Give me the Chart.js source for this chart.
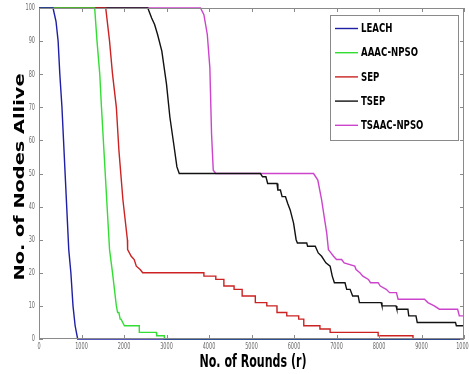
<!DOCTYPE html>
<html>
<head>
<meta charset="utf-8">
<script src="https://cdn.jsdelivr.net/npm/chart.js@4.4.1/dist/chart.umd.min.js"></script>
<style>
  html, body { margin: 0; padding: 0; background: #fff; }
  #wrap { width: 469px; height: 374px; }
</style>
</head>
<body>
<div id="wrap"><canvas id="chart"></canvas></div>
<script>
// values: rounds (x) and nodes alive (y) at each corner of the curves
const seriesNames = ['LEACH', 'AAAC-NPSO', 'SEP', 'TSEP', 'TSAAC-NPSO'];
const seriesColors = ['#1f1fa6', '#33dd33', '#cc2222', '#111111', '#cc44cc'];

const leachRounds = [0, 330, 400, 450, 490, 540, 700, 750, 800, 850, 910, 10000];
const leachNodes  = [100, 100, 96, 90, 80, 70, 27, 20, 10, 4, 0, 0];

const aaacRounds = [0, 1310, 1365, 1430, 1470, 1660, 1730, 1820, 1850, 1880, 1910, 1930, 2010, 2360, 2360, 2760, 2770, 2950, 2950, 10000];
const aaacNodes  = [100, 100, 90, 80, 70, 27, 20, 10, 8, 8, 6, 6, 4, 4, 2, 2, 1, 1, 0, 0];

const sepRounds = [0, 1570, 1660, 1730, 1820, 1880, 1975, 2080, 2085, 2170, 2240, 2290, 2380, 2440,
  3880, 3880, 4160, 4160, 4350, 4350, 4590, 4590, 4780, 4780, 5090, 5090, 5360, 5360, 5600, 5600,
  5830, 5830, 6110, 6110, 6230, 6230, 6610, 6610, 6850, 6850, 7980, 7980, 8800, 8800, 10000];
const sepNodes  = [100, 100, 90, 80, 70, 57, 42, 30, 27, 25, 24, 22, 21, 20,
  20, 19, 19, 18, 18, 16, 16, 15, 15, 13, 13, 11, 11, 10, 10, 8,
  8, 7, 7, 6, 6, 4, 4, 3, 3, 2, 2, 1, 1, 0, 0];

const tsepRounds = [0, 2560, 2650, 2720, 2790, 2890, 3000, 3080, 3180, 3245, 3300, 5210, 5260, 5340, 5380,
  5600, 5620, 5680, 5720, 5800, 5850, 5910, 5990, 6050, 6080, 6300, 6320, 6500, 6570, 6650, 6750, 6850,
  6900, 6950, 7200, 7240, 7320, 7380, 7510, 7540, 8050, 8070, 8400, 8420, 8680, 8700, 8870, 8900, 9800, 9820, 10000];
const tsepNodes  = [100, 100, 97, 95, 92, 87, 77, 67, 58, 52, 50, 50, 49, 49, 47,
  47, 45, 45, 43, 43, 41, 39, 35, 30, 29, 29, 28, 28, 26, 25, 23, 22,
  19, 17, 17, 15, 15, 13, 13, 11, 11, 10, 10, 9, 9, 7, 7, 5, 5, 4, 4];

const tsaacRounds = [0, 3800, 3880, 3960, 4020, 4060, 4100, 4160, 6460, 6560, 6650, 6710, 6770, 6810, 6870,
  6930, 7000, 7120, 7180, 7430, 7460, 7550, 7620, 7750, 7800, 7980, 8030, 8170, 8250, 8410, 8450,
  9070, 9150, 9300, 9420, 9850, 9890, 10000];
const tsaacNodes  = [100, 100, 98, 92, 82, 62, 51, 50, 50, 48, 42, 37, 32, 27, 26,
  25, 24, 24, 23, 22, 21, 20, 19, 18, 17, 17, 16, 15, 14, 14, 12,
  12, 11, 10, 9, 9, 7, 7];

const xTicks = { min: 0, max: 10000, step: 1000 };
const yTicks = { min: 0, max: 100, step: 10 };

const allRounds = [leachRounds, aaacRounds, sepRounds, tsepRounds, tsaacRounds];
const allNodes = [leachNodes, aaacNodes, sepNodes, tsepNodes, tsaacNodes];

const sans = '"DejaVu Sans", sans-serif';

// write text squeezed/stretched horizontally by factor sx
function squeezedText(ctx, text, x, y, sx, align) {
  ctx.save();
  ctx.translate(x, y);
  ctx.scale(sx, 1);
  ctx.textAlign = align;
  ctx.fillText(text, 0, 0);
  ctx.restore();
}

// axis frame with inward tick marks, narrow tick labels, titles, legend
const framePlugin = {
  id: 'frame',
  beforeDatasetsDraw(chart) {
    const { ctx, chartArea: a, scales } = chart;
    ctx.save();
    ctx.fillStyle = '#6a6a6a';
    ctx.font = '9px ' + sans;
    ctx.textBaseline = 'middle';
    scales.x.ticks.forEach(t => {
      squeezedText(ctx, String(t.value), scales.x.getPixelForValue(t.value), a.bottom + 8, 0.55, 'center');
    });
    scales.y.ticks.forEach(t => {
      squeezedText(ctx, String(t.value), a.left - 4, scales.y.getPixelForValue(t.value), 0.55, 'right');
    });
    ctx.restore();
  },
  afterDatasetsDraw(chart) {
    const { ctx, chartArea: a, scales } = chart;
    ctx.save();
    ctx.strokeStyle = '#8a8a8a';
    ctx.lineWidth = 1;
    ctx.strokeRect(a.left + 0.5, a.top + 0.5, a.right - a.left - 1, a.bottom - a.top - 1);
    ctx.beginPath();
    scales.x.ticks.forEach(t => {
      const px = Math.round(scales.x.getPixelForValue(t.value)) + 0.5;
      ctx.moveTo(px, a.bottom); ctx.lineTo(px, a.bottom - 4);
      ctx.moveTo(px, a.top); ctx.lineTo(px, a.top + 4);
    });
    scales.y.ticks.forEach(t => {
      const py = Math.round(scales.y.getPixelForValue(t.value)) + 0.5;
      ctx.moveTo(a.left, py); ctx.lineTo(a.left + 4, py);
      ctx.moveTo(a.right, py); ctx.lineTo(a.right - 4, py);
    });
    ctx.stroke();
    ctx.restore();
  },
  afterDraw(chart) {
    const { ctx, chartArea: a } = chart;
    ctx.save();
    ctx.fillStyle = '#000';
    ctx.textBaseline = 'middle';

    // x axis title
    ctx.font = 'bold 17px ' + sans;
    const xt = 'No. of Rounds (r)';
    squeezedText(ctx, xt, 253, 363, 107 / ctx.measureText(xt).width, 'center');

    // y axis title, stretched along its length like the original
    ctx.save();
    ctx.translate(20, 177);
    ctx.rotate(-Math.PI / 2);
    ctx.font = 'bold 14px ' + sans;
    const yt = 'No. of Nodes Allive';
    squeezedText(ctx, yt, 0, 0, 207 / ctx.measureText(yt).width, 'center');
    ctx.restore();

    // legend box
    const bx = a.right - 134, by = a.top + 7, bw = 128, bh = 125;
    ctx.fillStyle = '#fff';
    ctx.fillRect(bx, by, bw, bh);
    ctx.strokeStyle = '#8a8a8a';
    ctx.lineWidth = 1;
    ctx.strokeRect(bx + 0.5, by + 0.5, bw, bh);
    ctx.font = 'bold 12px ' + sans;
    const lsx = 57 / ctx.measureText('AAAC-NPSO').width;
    chart.data.datasets.forEach((ds, i) => {
      const ly = by + 13.5 + i * 24.2;
      ctx.strokeStyle = ds.borderColor;
      ctx.lineWidth = 1.4;
      ctx.beginPath();
      ctx.moveTo(bx + 5, ly); ctx.lineTo(bx + 28, ly);
      ctx.stroke();
      ctx.fillStyle = '#000';
      squeezedText(ctx, ds.label, bx + 31, ly + 0.5, lsx, 'left');
    });
    ctx.restore();
  }
};

new Chart(document.getElementById('chart'), {
  type: 'line',
  data: {
    datasets: seriesNames.map((name, i) => ({
      label: name,
      data: allRounds[i].map((r, j) => ({ x: r, y: allNodes[i][j] })),
      borderColor: seriesColors[i],
      backgroundColor: seriesColors[i],
      borderWidth: 1.4,
      pointRadius: 0,
      fill: false,
      tension: 0,
      clip: 3
    }))
  },
  options: {
    responsive: true,
    maintainAspectRatio: false,
    animation: false,
    devicePixelRatio: 1,
    layout: { padding: { top: 8, right: 5, left: 0, bottom: 0 } },
    plugins: {
      legend: { display: false },
      tooltip: { enabled: false }
    },
    scales: {
      x: {
        type: 'linear',
        min: xTicks.min,
        max: xTicks.max,
        grid: { display: false, drawTicks: false },
        border: { display: false },
        ticks: { stepSize: xTicks.step, display: false },
        afterFit: s => { s.height = 35; s.paddingLeft = 0; s.paddingRight = 0; }
      },
      y: {
        min: yTicks.min,
        max: yTicks.max,
        grid: { display: false, drawTicks: false },
        border: { display: false },
        ticks: { stepSize: yTicks.step, display: false },
        afterFit: s => { s.width = 39; s.paddingTop = 0; s.paddingBottom = 0; }
      }
    }
  },
  plugins: [framePlugin]
});
</script>
</body>
</html>
